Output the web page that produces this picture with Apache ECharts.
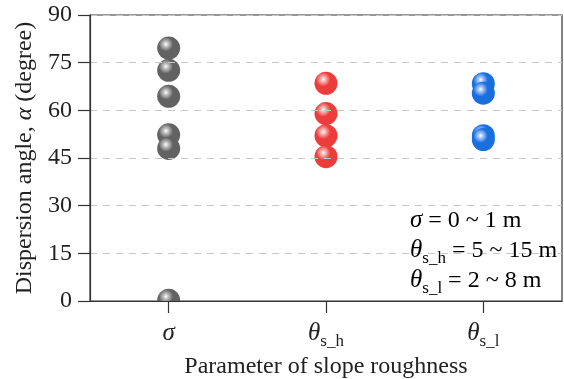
<!DOCTYPE html>
<html><head><meta charset="utf-8">
<script src="https://cdn.jsdelivr.net/npm/echarts@6/dist/echarts.min.js"></script>
<style>html,body{margin:0;padding:0;background:#fff}#c{width:564px;height:379px}</style>
</head><body><div id="c"></div>
<script>
var categories = ['sigma', 'theta_sh', 'theta_sl'];
var yTicks = [0, 15, 30, 45, 60, 75, 90];
var sigmaValues = [79.6, 72.6, 64.4, 52.3, 48.0, 0.2];
var thetaSHValues = [68.5, 59.0, 52.0, 45.4];
var thetaSLValues = [68.4, 65.4, 52.0, 50.8];
var seriesColors = ['#626262', '#ec3c3c', '#1a6fdf'];
var seriesHighlights = ['#c4c4c4', '#ffb4b4', '#a8c8ff'];

var FONT = 'Liberation Serif';
var GRID = {left:90, right:2, top:15, bottom:78};
function sphere(i){
  return {type:'radial', x:0.38, y:0.33, r:0.65, colorStops:[
    {offset:0, color:'#ffffff'},
    {offset:0.16, color:seriesHighlights[i]},
    {offset:0.48, color:seriesColors[i]},
    {offset:1, color:seriesColors[i]}
  ]};
}
var chart = echarts.init(document.getElementById('c'), null, {renderer:'canvas'});
var allVals = [sigmaValues, thetaSHValues, thetaSLValues];
var series = allVals.map(function(vals, i){
  return {type:'scatter', symbol:'circle', symbolSize:23, clip:true,
    data: vals.map(function(v){return [categories[i], v];}),
    itemStyle:{color:sphere(i), opacity:1}, z: 3};
});
var catLabel = {
  sigma: '{it|σ}',
  theta_sh: '{it|θ}{sub|s_h}',
  theta_sl: '{it|θ}{sub|s_l}'
};
var rich = {
  it:{fontFamily:FONT, fontStyle:'italic', fontSize:25, color:'#222', verticalAlign:'bottom', lineHeight:28},
  sub:{fontFamily:FONT, fontSize:17, color:'#222', verticalAlign:'bottom', padding:[0,0,-4,0], lineHeight:28},
  t:{fontFamily:FONT, fontSize:24, color:'#222', verticalAlign:'bottom', lineHeight:28}
};
chart.setOption({
  animation:false,
  grid:{left:GRID.left, right:GRID.right, top:GRID.top, bottom:GRID.bottom, outerBoundsMode:'none', containLabel:false,
    show:true, borderColor:'#333', borderWidth:1.2, backgroundColor:'transparent'},
  xAxis:{type:'category', data:categories, boundaryGap:true, z:10,
    name:'Parameter of slope roughness', nameLocation:'middle', nameGap:48,
    nameTextStyle:{fontFamily:FONT, fontSize:24, color:'#222'},
    axisLine:{lineStyle:{color:'#333', width:1.2}},
    axisTick:{show:true, alignWithLabel:true, inside:false, length:12, lineStyle:{color:'#333', width:1.2}},
    axisLabel:{margin:17, formatter:function(v){return catLabel[v];}, rich:rich},
    splitLine:{show:false}},
  yAxis:{type:'value', min:0, max:90, interval:15, z:10,
    name:'Dispersion angle, {it|α} (degree)', nameLocation:'middle', nameGap:53, nameRotate:90,
    nameTextStyle:{fontFamily:FONT, fontSize:24, color:'#222', rich:{it:{fontFamily:FONT, fontStyle:'italic', fontSize:24, color:'#222'}}},
    axisLine:{show:true, lineStyle:{color:'#333', width:1.2}},
    axisTick:{show:true, inside:false, length:12, lineStyle:{color:'#333', width:1.2}},
    axisLabel:{margin:18, fontFamily:FONT, fontSize:24, color:'#222',
      formatter:function(v){return yTicks.indexOf(v) >= 0 ? String(v) : '';}},
    splitLine:{show:true, lineStyle:{color:'#c8c8c8', type:[7,6], width:1}}},
  graphic:[
    {type:'rect', z:5, shape:{x:GRID.left+1, y:379-GRID.bottom+1, width:564-GRID.left-GRID.right-2, height:GRID.bottom}, style:{fill:'#ffffff'}},
    {type:'text', left:410, top:208, z:20, style:{text:'{it|σ}{t| = 0 ~ 1 m}', rich:rich}},
    {type:'text', left:410, top:238, z:20, style:{text:'{it|θ}{sub|s_h}{t| = 5 ~ 15 m}', rich:rich}},
    {type:'text', left:410, top:268, z:20, style:{text:'{it|θ}{sub|s_l}{t| = 2 ~ 8 m}', rich:rich}}
  ],
  series:series
});
</script></body></html>
